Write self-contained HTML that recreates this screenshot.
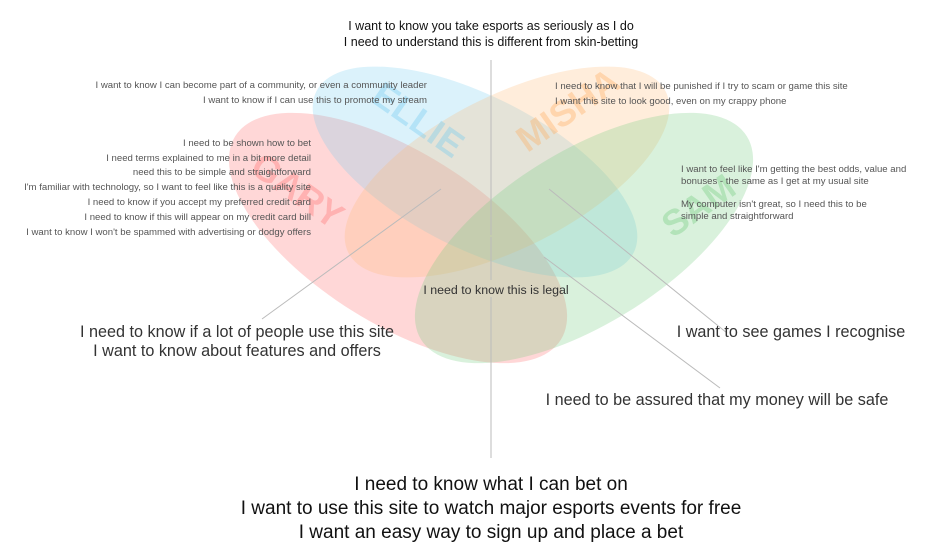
<!DOCTYPE html>
<html><head><meta charset="utf-8"><style>
html,body{margin:0;padding:0;background:#fff;}
svg{display:block;font-family:"Liberation Sans",sans-serif;}
</style></head><body>
<svg width="945" height="558" viewBox="0 0 945 558" xmlns="http://www.w3.org/2000/svg">
<g>
<ellipse cx="398" cy="238" rx="192" ry="86" transform="rotate(32 398 238)" fill="rgb(255,110,110)" fill-opacity="0.28"/>
<ellipse cx="475" cy="172" rx="178" ry="76" transform="rotate(27 475 172)" fill="rgb(110,205,240)" fill-opacity="0.25"/>
<ellipse cx="507" cy="172" rx="178" ry="76" transform="rotate(-27 507 172)" fill="rgb(255,185,110)" fill-opacity="0.25"/>
<ellipse cx="584" cy="238" rx="192" ry="86" transform="rotate(-32 584 238)" fill="rgb(120,205,130)" fill-opacity="0.28"/>
</g>
<g font-weight="bold" font-size="36" text-anchor="middle">
<text x="418" y="132" transform="rotate(35 418 120)" fill="rgb(110,200,240)" fill-opacity="0.35">ELLIE</text>
<text x="568" y="122" transform="rotate(-35 568 110)" fill="rgb(255,170,90)" fill-opacity="0.35">MISHA</text>
<text x="298" y="203" transform="rotate(35 298 190)" fill="rgb(255,110,110)" fill-opacity="0.35">GARY</text>
<text x="698" y="218" transform="rotate(-35 698 205)" fill="rgb(110,200,120)" fill-opacity="0.35">SAM</text>
</g>
<g stroke="#bbb" stroke-width="1">
<line x1="491" y1="60" x2="491" y2="235"/>
<line x1="491" y1="237" x2="491" y2="280"/>
<line x1="491" y1="297" x2="491" y2="458"/>
<line x1="441" y1="189" x2="262" y2="319"/>
<line x1="549" y1="189" x2="727" y2="333"/>
<line x1="544" y1="257" x2="720" y2="388"/>
</g>
<g fill="#111" font-size="12.5" text-anchor="middle">
<text x="491" y="30">I want to know you take esports as seriously as I do</text>
<text x="491" y="46">I need to understand this is different from skin-betting</text>
</g>
<g fill="#555" font-size="9.6" text-anchor="end">
<text x="427" y="88">I want to know I can become part of a community, or even a community leader</text>
<text x="427" y="103">I want to know if I can use this to promote my stream</text>
<text x="311" y="146">I need to be shown how to bet</text>
<text x="311" y="161">I need terms explained to me in a bit more detail</text>
<text x="311" y="175">need this to be simple and straightforward</text>
<text x="311" y="190">I'm familiar with technology, so I want to feel like this is a quality site</text>
<text x="311" y="205">I need to know if you accept my preferred credit card</text>
<text x="311" y="220">I need to know if this will appear on my credit card bill</text>
<text x="311" y="235">I want to know I won't be spammed with advertising or dodgy offers</text>
</g>
<g fill="#555" font-size="9.6">
<text x="555" y="89">I need to know that I will be punished if I try to scam or game this site</text>
<text x="555" y="104">I want this site to look good, even on my crappy phone</text>
<text x="681" y="172">I want to feel like I'm getting the best odds, value and</text>
<text x="681" y="184">bonuses - the same as I get at my usual site</text>
<text x="681" y="207">My computer isn't great, so I need this to be</text>
<text x="681" y="219">simple and straightforward</text>
</g>
<text x="496" y="294" fill="#333" font-size="12.4" text-anchor="middle">I need to know this is legal</text>
<g fill="#333" font-size="16.2" text-anchor="middle">
<text x="237" y="337">I need to know if a lot of people use this site</text>
<text x="237" y="356">I want to know about features and offers</text>
</g>
<text x="791" y="337" fill="#333" font-size="16.2" text-anchor="middle">I want to see games I recognise</text>
<text x="717" y="405" fill="#333" font-size="16.2" text-anchor="middle">I need to be assured that my money will be safe</text>
<g fill="#111" font-size="19" text-anchor="middle">
<text x="491" y="490">I need to know what I can bet on</text>
<text x="491" y="514">I want to use this site to watch major esports events for free</text>
<text x="491" y="538">I want an easy way to sign up and place a bet</text>
</g>
</svg>
</body></html>
